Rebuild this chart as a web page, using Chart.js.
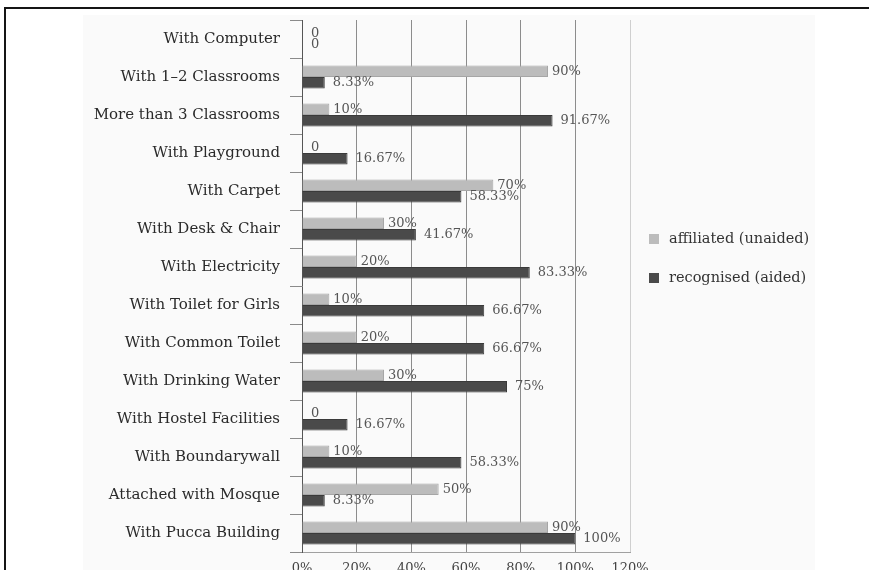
<!DOCTYPE html>
<html>
<head>
<meta charset="utf-8">
<script src="https://cdn.jsdelivr.net/npm/chart.js@4/dist/chart.umd.min.js"></script>
<style>
  html, body { margin: 0; padding: 0; background: #fff; overflow: hidden; }
  body { width: 869px; height: 570px; position: relative; }
  #frame { position: absolute; left: 4px; top: 7px; width: 900px; height: 600px;
           border-top: 2px solid #151515; border-left: 2px solid #151515; }
  #panel { position: absolute; left: 83px; top: 15px; width: 732px; height: 570px;
           background: #fafafa; overflow: hidden; }
  #panel canvas { display: block; }
</style>
</head>
<body>
<div id="frame"></div>
<div id="panel"><canvas id="chart" width="732" height="570"></canvas></div>
<script>
// School facilities, share of schools by category
const categories = [
  'With Computer', 'With 1\u20132 Classrooms', 'More than 3 Classrooms', 'With Playground',
  'With Carpet', 'With Desk & Chair', 'With Electricity', 'With Toilet for Girls',
  'With Common Toilet', 'With Drinking Water', 'With Hostel Facilities',
  'With Boundarywall', 'Attached with Mosque', 'With Pucca Building'
];
const affiliatedUnaided = [0, 90, 10, 0, 70, 30, 20, 10, 20, 30, 0, 10, 50, 90];
const recognisedAided   = [0, 8.33, 91.67, 16.67, 58.33, 41.67, 83.33, 66.67, 66.67, 75, 16.67, 58.33, 8.33, 100];
const seriesNames = ['affiliated (unaided)', 'recognised (aided)'];
const xTicks = [0, 20, 40, 60, 80, 100, 120];

const SERIF = '"DejaVu Serif", "Liberation Serif", serif';

// Value labels written just past the end of each bar
const barValueLabels = {
  id: 'barValueLabels',
  afterDatasetsDraw(chart) {
    const ctx = chart.ctx;
    ctx.save();
    ctx.font = '13px ' + SERIF;
    ctx.fillStyle = '#555';
    ctx.textAlign = 'left';
    ctx.textBaseline = 'middle';
    chart.data.datasets.forEach((ds, di) => {
      const meta = chart.getDatasetMeta(di);
      const gap = di === 0 ? 4 : 8;
      meta.data.forEach((bar, i) => {
        const v = ds.data[i];
        const txt = v === 0 ? '0' : v + '%';
        ctx.fillText(txt, bar.x + (v === 0 ? 9 : gap), bar.y);
      });
    });
    ctx.restore();
  }
};

// Legend to the right of the plot
const sideLegend = {
  id: 'sideLegend',
  afterDraw(chart) {
    const ctx = chart.ctx;
    const x0 = chart.chartArea.right + 19;
    const rows = [224, 263];
    ctx.save();
    ctx.font = '14.5px ' + SERIF;
    ctx.textBaseline = 'middle';
    ctx.textAlign = 'left';
    chart.data.datasets.forEach((ds, di) => {
      const y = rows[di];
      ctx.fillStyle = ds.backgroundColor;
      ctx.fillRect(x0, y - 5, 10, 10);
      ctx.fillStyle = '#333';
      ctx.fillText(ds.label, x0 + 20, y);
    });
    ctx.restore();
  }
};

new Chart(document.getElementById('chart'), {
  type: 'bar',
  data: {
    labels: categories,
    datasets: [
      { label: seriesNames[0], data: affiliatedUnaided, backgroundColor: '#bcbcbc',
        borderColor: '#a6a6a6', borderWidth: 1, categoryPercentage: 0.6, barPercentage: 1.0 },
      { label: seriesNames[1], data: recognisedAided, backgroundColor: '#4a4a4a',
        borderColor: '#3a3a3a', borderWidth: 1, categoryPercentage: 0.6, barPercentage: 1.0 }
    ]
  },
  options: {
    indexAxis: 'y',
    responsive: false,
    animation: false,
    layout: { padding: { top: 5, right: 185, bottom: 0, left: 0 } },
    plugins: { legend: { display: false }, tooltip: { enabled: false } },
    scales: {
      x: {
        min: 0, max: 120,
        afterBuildTicks(scale) { scale.ticks = xTicks.map(v => ({ value: v })); },
        afterFit(scale) { scale.height = 33; },
        grid: {
          drawTicks: false,
          color: c => c.tick.value === 0 ? 'rgba(0,0,0,0)' : (c.tick.value === 120 ? '#cfcfcf' : '#8c8c8c'),
          lineWidth: 1
        },
        border: { color: '#a0a0a0', width: 1 },
        ticks: {
          padding: 9,
          color: '#444',
          font: { family: SERIF, size: 13 },
          callback: v => v + '%'
        }
      },
      y: {
        afterFit(scale) {
          scale.width = 219;
          scale.paddingTop = 0;
          scale.paddingBottom = 0;
        },
        grid: { offset: true, drawOnChartArea: false, drawTicks: true, tickLength: 12, color: '#8a8a8a' },
        border: { color: '#555', width: 1 },
        ticks: {
          padding: 10,
          color: '#2a2a2a',
          font: { family: SERIF, size: 15 },
          autoSkip: false
        }
      }
    }
  },
  plugins: [barValueLabels, sideLegend]
});
</script>
</body>
</html>
